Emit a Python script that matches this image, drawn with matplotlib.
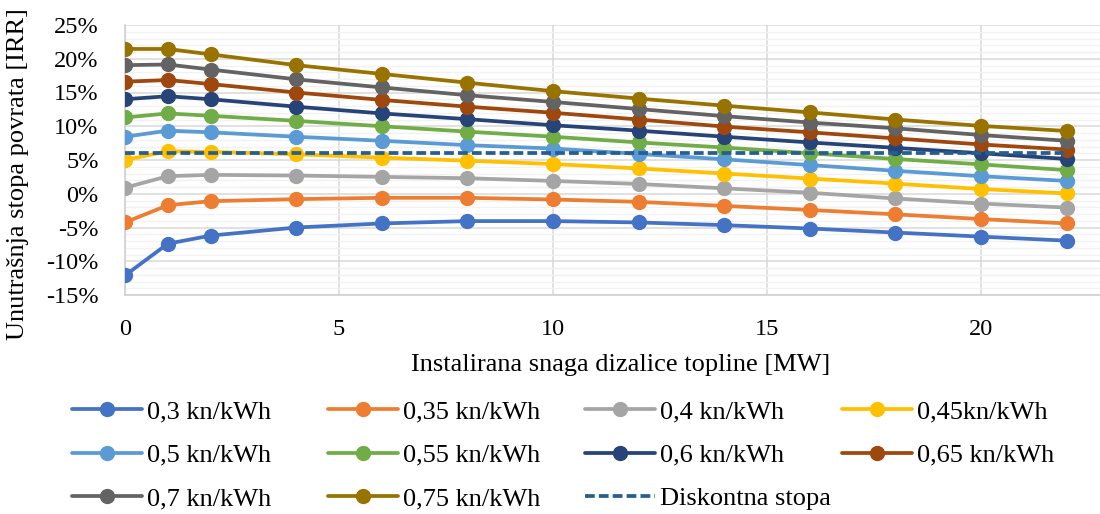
import matplotlib
matplotlib.use("Agg")
import matplotlib.pyplot as plt
from matplotlib.ticker import MultipleLocator, FuncFormatter

plt.rcParams['font.family'] = ['Liberation Serif', 'DejaVu Serif']

x_mw = [0, 1, 2, 4, 6, 8, 10, 12, 14, 16, 18, 20, 22]

irr_030 = [-12.1, -7.4, -6.2, -5.0, -4.4, -4.05, -4.05, -4.25, -4.65, -5.15, -5.75, -6.35, -6.95]
irr_035 = [-4.25, -1.7, -1.1, -0.8, -0.6, -0.6, -0.85, -1.2, -1.8, -2.4, -3.05, -3.75, -4.4]
irr_040 = [0.9, 2.6, 2.8, 2.7, 2.5, 2.3, 1.9, 1.45, 0.8, 0.15, -0.7, -1.45, -2.05]
irr_045 = [5.0, 6.3, 6.2, 5.85, 5.35, 4.9, 4.4, 3.75, 3.0, 2.25, 1.5, 0.7, 0.05]
irr_050 = [8.45, 9.35, 9.1, 8.45, 7.85, 7.2, 6.7, 5.9, 5.1, 4.25, 3.4, 2.6, 1.9]
irr_055 = [11.3, 11.9, 11.55, 10.8, 10.0, 9.2, 8.45, 7.6, 6.85, 6.0, 5.15, 4.35, 3.5]
irr_060 = [14.0, 14.45, 14.0, 12.9, 11.9, 11.05, 10.15, 9.35, 8.45, 7.6, 6.8, 6.0, 5.15]
irr_065 = [16.6, 16.85, 16.25, 15.0, 13.9, 12.9, 12.0, 11.0, 9.95, 9.1, 8.2, 7.3, 6.55]
irr_070 = [19.05, 19.15, 18.4, 16.95, 15.75, 14.6, 13.6, 12.55, 11.5, 10.55, 9.7, 8.7, 7.85]
irr_075 = [21.45, 21.45, 20.65, 19.05, 17.75, 16.45, 15.2, 14.1, 13.05, 12.05, 11.0, 10.05, 9.3]
discount = [6.0] * len(x_mw)

labels = ["0,3 kn/kWh", "0,35 kn/kWh", "0,4 kn/kWh", "0,45kn/kWh", "0,5 kn/kWh",
          "0,55 kn/kWh", "0,6 kn/kWh", "0,65 kn/kWh", "0,7 kn/kWh", "0,75 kn/kWh"]
discount_label = "Diskontna stopa"
y_ticks = [-15, -10, -5, 0, 5, 10, 15, 20, 25]
x_ticks = [0, 5, 10, 15, 20]

series = [irr_030, irr_035, irr_040, irr_045, irr_050, irr_055, irr_060, irr_065, irr_070, irr_075]
colors = ['#4472C4', '#ED7D31', '#A5A5A5', '#FFC000', '#5B9BD5',
          '#70AD47', '#264478', '#9E480E', '#636363', '#997300']

W, H = 1100, 514
FS = 19
fig = plt.figure(figsize=(W / 100, H / 100), dpi=100)
ax = fig.add_axes([125 / W, 1 - 295 / H, (W - 125) / W, (295 - 25) / H])

handles = []
for s, c, lab in zip(series, colors, labels):
    h, = ax.plot(x_mw, s, color=c, lw=2.7, marker='o', markersize=10,
                 label=lab, zorder=3, solid_capstyle='round')
    handles.append(h)
hd, = ax.plot(x_mw, discount, color='#255E91', lw=2.7, ls=(0, (2.6, 1.1)),
              label=discount_label, zorder=4)

ax.set_xlim(0, 22.78)
ax.set_ylim(-15, 25)
ax.set_yticks(y_ticks)
ax.set_xticks(x_ticks)
ax.yaxis.set_minor_locator(MultipleLocator(1))
ax.yaxis.set_major_formatter(FuncFormatter(lambda v, p: f"{int(round(v))}%"))
ax.grid(which='major', axis='both', color='#D9D9D9', lw=1.1, zorder=0)
ax.grid(which='minor', axis='y', color='#F2F2F2', lw=1.0, zorder=0)
ax.set_axisbelow(True)
for side in ['top', 'right']:
    ax.spines[side].set_visible(False)
for side in ['left', 'bottom']:
    ax.spines[side].set_color('#D0D0D0')
    ax.spines[side].set_linewidth(1.2)
ax.tick_params(which='both', length=0, labelsize=17.5)
ax.tick_params(axis='y', pad=19)
ax.tick_params(axis='x', pad=17)

fig.text(18 / W, 1 - 174 / H, "Unutrašnja stopa povrata [IRR]", rotation=90,
         ha='center', va='center', fontsize=FS)
fig.text(621 / W, 1 - 365 / H, "Instalirana snaga dizalice topline [MW]",
         ha='center', va='center', fontsize=FS)

columns = [
    ([handles[0], handles[4], handles[8]], 72),
    ([handles[1], handles[5], handles[9]], 328),
    ([handles[2], handles[6], hd], 585),
    ([handles[3], handles[7]], 842),
]
for hs, xpx in columns:
    fig.legend(handles=hs, labels=[h.get_label() for h in hs],
               loc='upper left', bbox_to_anchor=(xpx / W, 1 - 400 / H),
               frameon=False, fontsize=FS, handlelength=2.65,
               handletextpad=0.19, borderpad=0, borderaxespad=0,
               labelspacing=0.75, markerscale=1.0)

fig.savefig("out.png", dpi=100)
